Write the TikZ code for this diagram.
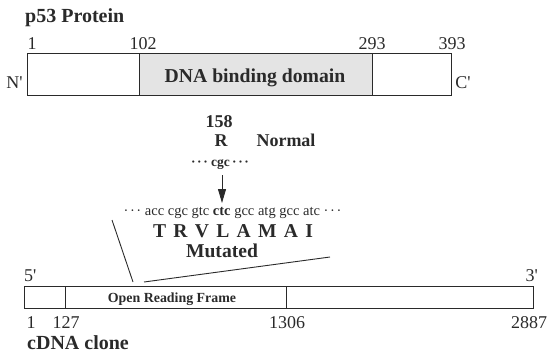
\documentclass[tikz,border=0pt]{standalone}
\usepackage{fontspec}
\setmainfont{Liberation Serif}
\usetikzlibrary{arrows.meta}
\definecolor{ink}{HTML}{2A2A2A}
\definecolor{dom}{HTML}{E4E4E4}
\newcommand\fsz[1]{\fontsize{#1bp}{#1bp}\selectfont}
\newcommand\dts{·\kern1.6bp·\kern1.6bp·}
\newcommand\pr{\textquotesingle}
\begin{document}
\begin{tikzpicture}[x=1bp,y=-1bp,
  every node/.style={inner sep=0pt, text=ink},
  boxs/.style={draw=ink, line width=0.9bp},
  num/.style={font=\fsz{18}, anchor=base},
  ttl/.style={font=\fsz{20}\bfseries, anchor=base west},
  lnk/.style={draw=ink, line width=0.9bp}]
\useasboundingbox (0,0) rectangle (548,353);
% protein
\node[ttl] (ptitle) at (25,22) {p53 Protein};
\node[boxs, minimum width=424bp, minimum height=42bp, anchor=north west] (prot) at (27,53) {};
\node[boxs, fill=dom, minimum width=233bp, minimum height=42bp, anchor=north west] (dbd) at (139,53) {};
\node[font=\fsz{19.7}\bfseries, anchor=base] (dbdt) at (255,82) {DNA binding domain};
\node[num] (p1) at (32,49.5) {1};
\node[num] (p102) at (143,49.5) {102};
\node[num] (p293) at (372,49.5) {293};
\node[num] (p393) at (452,49.5) {393};
\node[num] (nterm) at (14.5,88) {N\pr};
\node[num] (cterm) at (463,88) {C\pr};
% mutation
\node[font=\fsz{18}\bfseries, anchor=base] (pos) at (219,127) {158};
\node[font=\fsz{18}\bfseries, anchor=base] (res) at (221,146.5) {R};
\node[font=\fsz{18}\bfseries, anchor=base] (norm) at (286,146.5) {Normal};
\node[font=\fsz{13.5}\bfseries, anchor=base] (cgc) at (220,166) {\dts\ cgc\,\dts};
\coordinate (a1) at (222,175);
\coordinate (a2) at (222,203);
\draw[lnk, -{Triangle[length=14bp,width=8bp]}] (a1) -- (a2);
\node[font=\fsz{14.5}, anchor=base] (seq) at (232.5,215) {\dts\ acc cgc gtc \textbf{ctc} gcc atg gcc atc \dts};
\node[font=\fsz{19.6}\bfseries, anchor=base] (aa) at (233,237) {T\hspace{7.3bp}R\hspace{7.3bp}V\hspace{7.3bp}L\hspace{7.3bp}A\hspace{7.3bp}M\hspace{7.3bp}A\hspace{7.3bp}I};
\node[font=\fsz{19.6}\bfseries, anchor=base] (mut) at (222,257) {Mutated};
% zoom lines
\coordinate (z1) at (112,220);
\coordinate (z2) at (133,282);
\coordinate (z3) at (144,282);
\coordinate (z4) at (330,257);
\draw[lnk] (z1) -- (z2);
\draw[lnk] (z3) -- (z4);
% cDNA
\node[boxs, minimum width=509bp, minimum height=22bp, anchor=north west] (cdna) at (24,286) {};
\node[boxs, minimum width=221bp, minimum height=22bp, anchor=north west] (orf) at (65,286) {};
\node[font=\fsz{13.9}\bfseries, anchor=base] (orft) at (172,302) {Open Reading Frame};
\node[num, anchor=base west] (five) at (24,281) {5\pr};
\node[num, anchor=base east] (three) at (538,281) {3\pr};
\node[num] (c1) at (31,328) {1};
\node[num] (c127) at (66,328) {127};
\node[num] (c1306) at (287,328) {1306};
\node[num] (c2887) at (529,328) {2887};
\node[ttl] (ctitle) at (27,349) {cDNA clone};
\end{tikzpicture}
\end{document}
